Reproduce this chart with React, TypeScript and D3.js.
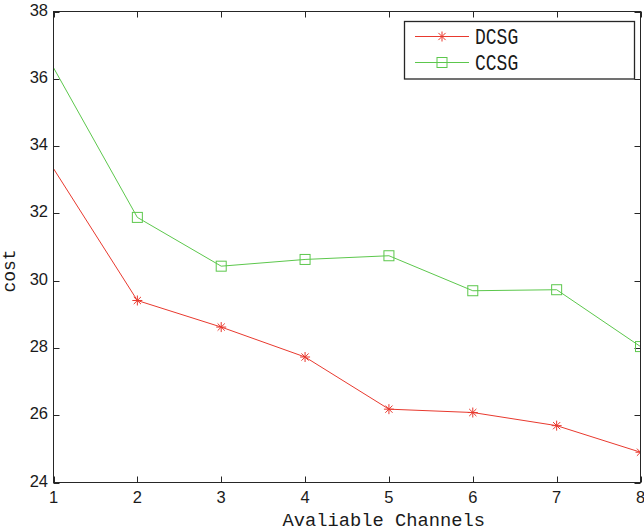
import React, { useEffect, useRef } from "react";
import * as d3 from "d3";

// data
const channels = [1, 2, 3, 4, 5, 6, 7, 8];
const dcsg = [33.33, 29.41, 28.62, 27.73, 26.18, 26.08, 25.69, 24.9];
const ccsg = [36.33, 31.88, 30.43, 30.63, 30.74, 29.7, 29.73, 28.04];
const yTicks = [24, 26, 28, 30, 32, 34, 36, 38];
const xTicks = [1, 2, 3, 4, 5, 6, 7, 8];

const RED = "#e8392e";
const GREEN = "#5cc74c";

const App = () => {
  const svgRef = useRef<SVGSVGElement | null>(null);

  useEffect(() => {
    const width = 644;
    const height = 532;
    const left = 53.5;
    const right = 640.5;
    const top = 11.5;
    const bottom = 482.5;

    const svg = d3.select(svgRef.current);
    svg.selectAll("*").remove();

    const x = d3.scaleLinear().domain([1, 8]).range([left, right]);
    const y = d3.scaleLinear().domain([24, 38]).range([bottom, top]);

    const tickLen = 6;
    const axisColor = "#262626";

    svg
      .append("defs")
      .append("clipPath")
      .attr("id", "plot-clip")
      .append("rect")
      .attr("x", left)
      .attr("y", top)
      .attr("width", right - left)
      .attr("height", bottom - top);

    // x tick labels
    svg
      .append("g")
      .selectAll("text")
      .data(xTicks)
      .join("text")
      .attr("x", (d) => x(d))
      .attr("y", 503)
      .attr("text-anchor", "middle")
      .attr("font-family", "Liberation Sans, Arial, sans-serif")
      .attr("font-size", 16.5)
      .attr("fill", "#1a1a1a")
      .text((d) => d);

    // y tick labels
    svg
      .append("g")
      .selectAll("text")
      .data(yTicks)
      .join("text")
      .attr("x", 48)
      .attr("y", (d) => y(d) + 4)
      .attr("text-anchor", "end")
      .attr("font-family", "Liberation Sans, Arial, sans-serif")
      .attr("font-size", 16.5)
      .attr("fill", "#1a1a1a")
      .text((d) => d);

    // ticks on all four sides, pointing inward
    const ticks = svg
      .append("g")
      .attr("stroke", axisColor)
      .attr("stroke-width", 1);
    xTicks.forEach((t) => {
      const px = Math.round(x(t)) + 0.5;
      ticks.append("line").attr("x1", px).attr("x2", px).attr("y1", bottom).attr("y2", bottom - tickLen);
      ticks.append("line").attr("x1", px).attr("x2", px).attr("y1", top).attr("y2", top + tickLen);
    });
    yTicks.forEach((t) => {
      const py = Math.round(y(t)) + 0.5;
      ticks.append("line").attr("x1", left).attr("x2", left + tickLen).attr("y1", py).attr("y2", py);
      ticks.append("line").attr("x1", right).attr("x2", right - tickLen).attr("y1", py).attr("y2", py);
    });

    const line = d3
      .line<number>()
      .x((_, i) => x(channels[i]))
      .y((d) => y(d));

    const plot = svg.append("g").attr("clip-path", "url(#plot-clip)");

    plot
      .append("path")
      .datum(ccsg)
      .attr("d", line)
      .attr("fill", "none")
      .attr("stroke", GREEN)
      .attr("stroke-width", 1);

    plot
      .append("path")
      .datum(dcsg)
      .attr("d", line)
      .attr("fill", "none")
      .attr("stroke", RED)
      .attr("stroke-width", 1);

    const sq = 10;
    const star = (cx: number, cy: number) => {
      const r = 5;
      const k = 3.6;
      return `M${cx - r},${cy}H${cx + r}M${cx},${cy - r}V${cy + r}` +
        `M${cx - k},${cy - k}L${cx + k},${cy + k}M${cx - k},${cy + k}L${cx + k},${cy - k}`;
    };

    // the first point carries no marker in the original
    const marked = (arr: number[]) => arr.map((v, i) => ({ v, i })).filter((d) => d.i > 0);

    plot
      .append("g")
      .selectAll("rect")
      .data(marked(ccsg))
      .join("rect")
      .attr("x", (d) => x(channels[d.i]) - sq / 2)
      .attr("y", (d) => y(d.v) - sq / 2)
      .attr("width", sq)
      .attr("height", sq)
      .attr("fill", "none")
      .attr("stroke", GREEN)
      .attr("stroke-width", 1);

    plot
      .append("g")
      .selectAll("path")
      .data(marked(dcsg))
      .join("path")
      .attr("d", (d) => star(x(channels[d.i]), y(d.v)))
      .attr("fill", "none")
      .attr("stroke", RED)
      .attr("stroke-width", 1);

    // axes box
    svg
      .append("rect")
      .attr("x", left)
      .attr("y", top)
      .attr("width", right - left)
      .attr("height", bottom - top)
      .attr("fill", "none")
      .attr("stroke", axisColor)
      .attr("stroke-width", 1);

    // legend
    const lg = svg.append("g");
    lg.append("rect")
      .attr("x", 404.5)
      .attr("y", 21.5)
      .attr("width", 230)
      .attr("height", 57.5)
      .attr("fill", "#fff")
      .attr("stroke", axisColor)
      .attr("stroke-width", 1.3);

    const items = [
      { name: "DCSG", color: RED, ly: 36, ty: 43.5 },
      { name: "CCSG", color: GREEN, ly: 62, ty: 70 },
    ];
    items.forEach((it) => {
      lg.append("line")
        .attr("x1", 415)
        .attr("x2", 469)
        .attr("y1", it.ly + 0.5)
        .attr("y2", it.ly + 0.5)
        .attr("stroke", it.color)
        .attr("stroke-width", 1);
      if (it.name === "DCSG") {
        lg.append("path")
          .attr("d", star(442, it.ly + 0.5))
          .attr("fill", "none")
          .attr("stroke", it.color);
      } else {
        lg.append("rect")
          .attr("x", 442 - sq / 2)
          .attr("y", it.ly + 0.5 - sq / 2)
          .attr("width", sq)
          .attr("height", sq)
          .attr("fill", "none")
          .attr("stroke", it.color);
      }
      lg.append("text")
        .attr("transform", `translate(475,${it.ty}) scale(1,1.25)`)
        .attr("font-family", "Liberation Mono, monospace")
        .attr("font-size", 18)
        .attr("fill", "#1a1a1a")
        .text(it.name);
    });

    // axis titles
    svg
      .append("text")
      .attr("x", (282.7 + 485) / 2)
      .attr("y", 526)
      .attr("text-anchor", "middle")
      .attr("font-family", "Liberation Mono, monospace")
      .attr("font-size", 18.75)
      .attr("fill", "#1a1a1a")
      .text("Avaliable Channels");

    svg
      .append("text")
      .attr("transform", `translate(14.5,271) rotate(-90)`)
      .attr("text-anchor", "middle")
      .attr("font-family", "Liberation Mono, monospace")
      .attr("font-size", 18)
      .attr("fill", "#1a1a1a")
      .text("cost");

    svg.attr("width", width).attr("height", height);
  }, []);

  return (
    <svg
      ref={svgRef}
      style={{ position: "absolute", left: 0, top: 0, background: "#fff" }}
    />
  );
};

export default App;
